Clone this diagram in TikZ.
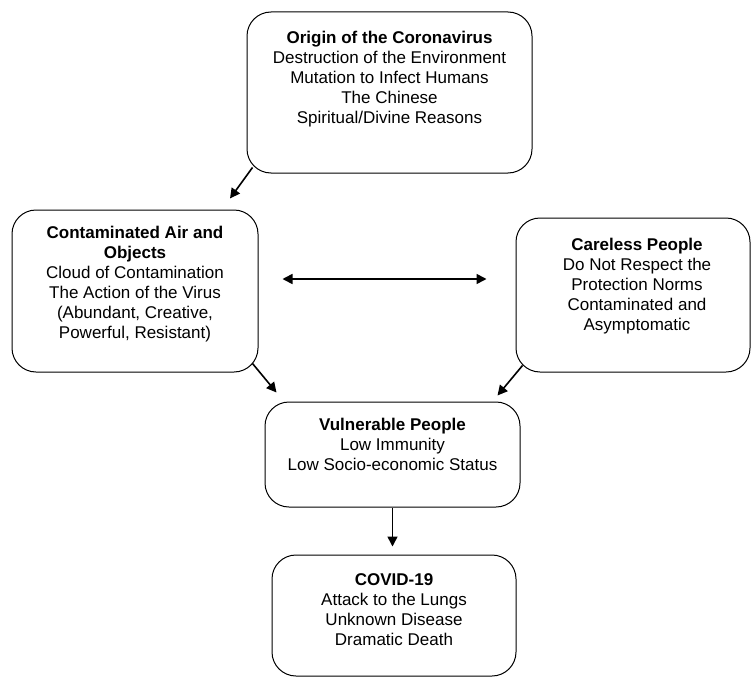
\documentclass[tikz,border=0pt]{standalone}
\usepackage{fontspec}
\setmainfont{Liberation Sans}
\usetikzlibrary{positioning, arrows.meta}
\tikzset{
    box/.style={draw, line width=1pt, rounded corners=24pt, inner sep=0pt},
    boxtext/.style={align=center, inner sep=0pt, font=\fontsize{17}{20}\selectfont},
    link/.style={line width=1.6pt}
}

\begin{document}
\begin{tikzpicture}[x=1pt, y=1pt, >={Triangle[length=10pt, width=10pt]}]
    \useasboundingbox (0, 0) rectangle (752, -677);
    % boxes
    \node[box, minimum width=285pt, minimum height=161pt] (origin) at (389.5, -92.5) {};
    \node[box, minimum width=246pt, minimum height=162pt] (air) at (135, -291) {};
    \node[box, minimum width=234pt, minimum height=154pt] (careless) at (633, -295) {};
    \node[box, minimum width=255pt, minimum height=105pt] (vulnerable) at (392.5, -454.5) {};
    \node[box, minimum width=244pt, minimum height=121pt] (covid) at (394, -615.5) {};
    % texts
    \node[boxtext, below=19.7pt of origin.north] (origintxt) {\textbf{Origin of the Coronavirus}\\Destruction of the Environment\\Mutation to Infect Humans\\The Chinese\\Spiritual/Divine Reasons};
    \node[boxtext, below=16.7pt of air.north] (airtxt) {\textbf{Contaminated Air and}\\\textbf{Objects}\\Cloud of Contamination\\The Action of the Virus\\(Abundant, Creative,\\Powerful, Resistant)};
    \node[boxtext, below=20.7pt of careless.north, xshift=4pt] (carelesstxt) {\textbf{Careless People}\\Do Not Respect the\\Protection Norms\\Contaminated and\\Asymptomatic};
    \node[boxtext, below=16.7pt of vulnerable.north] (vulnerabletxt) {\textbf{Vulnerable People}\\Low Immunity\\Low Socio-economic Status};
    \node[boxtext, below=18.7pt of covid.north] (covidtxt) {\textbf{COVID-19}\\Attack to the Lungs\\Unknown Disease\\Dramatic Death};
    % arrows
    \draw[link, ->] ([shift={(6, 6)}]origin.south west) -- ([shift={(95, 11)}]air.north);
    \draw[link, <->] ([shift={(24, 12)}]air.east) -- ([shift={(-29, 16)}]careless.west);
    \draw[link, ->] ([shift={(-6, 9)}]air.south east) -- ([shift={(12, 9)}]vulnerable.north west);
    \draw[link, ->] ([shift={(7, 7)}]careless.south west) -- ([shift={(-23, 6)}]vulnerable.north east);
    \draw[link, ->, shorten >=8pt] (vulnerable.south) -- (vulnerable.south |- covid.north);
\end{tikzpicture}
\end{document}
